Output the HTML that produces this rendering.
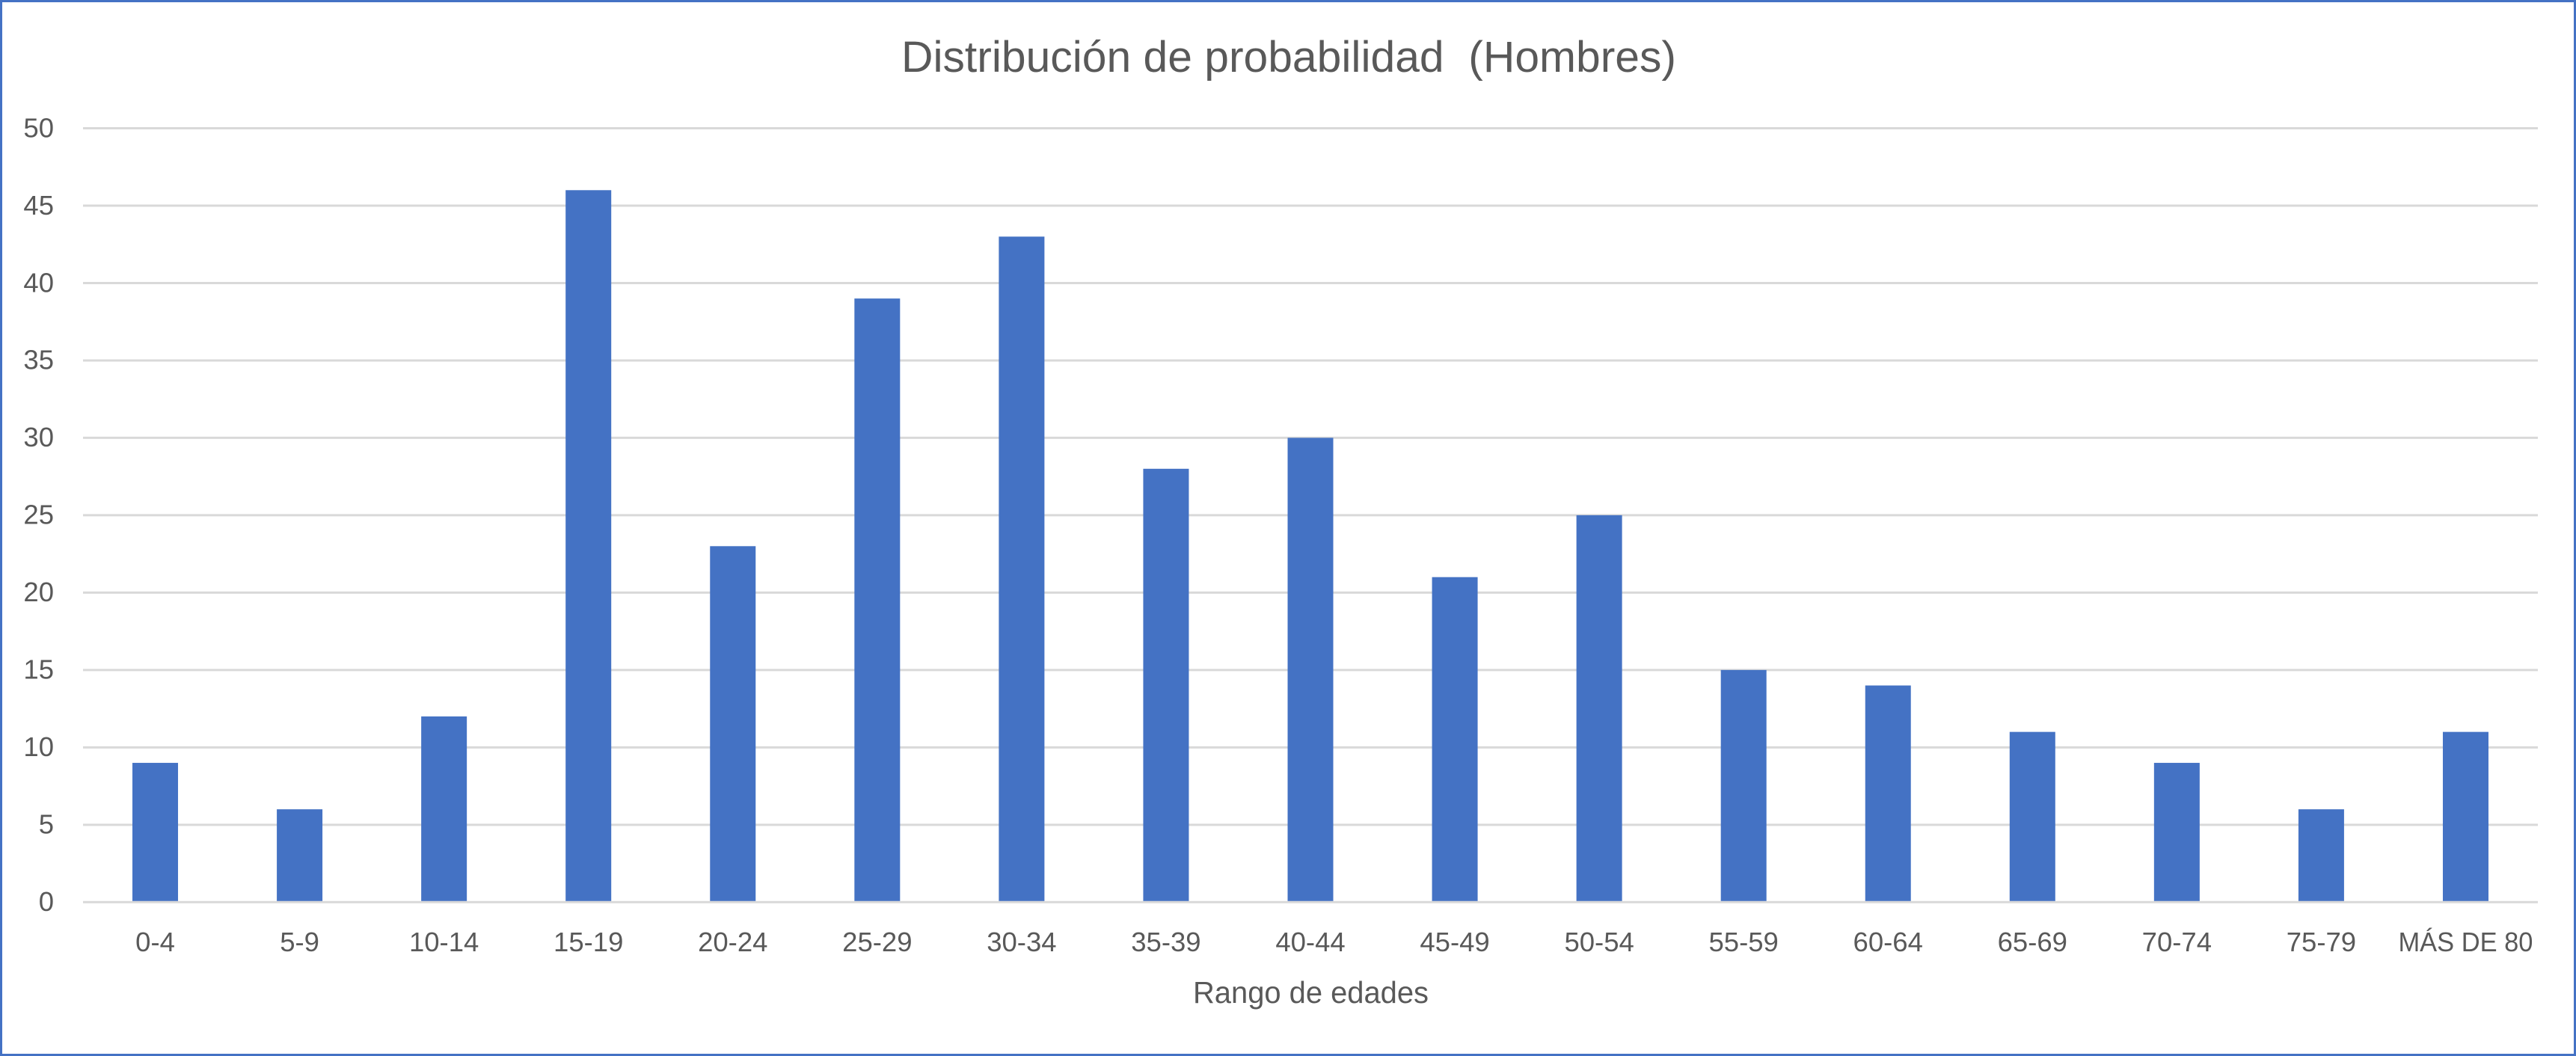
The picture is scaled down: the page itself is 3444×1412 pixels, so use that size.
<!DOCTYPE html>
<html lang="es">
<head>
<meta charset="utf-8">
<title>Distribución de probabilidad (Hombres)</title>
<style>
  html, body { margin: 0; padding: 0; background: #fff; }
  svg { display: block; }
  text { font-family: "Liberation Sans", sans-serif; fill: #595959; }
</style>
</head>
<body>
<svg id="chart" xmlns="http://www.w3.org/2000/svg" width="3444" height="1412" viewBox="0 0 3444 1412">
  <rect x="0" y="0" width="3444" height="1412" fill="#ffffff"/>
  <rect x="1.5" y="1.5" width="3441" height="1409" fill="none" stroke="#4472C4" stroke-width="3"/>
  <text x="1723" y="96" font-size="58" text-anchor="middle" textLength="1036" lengthAdjust="spacingAndGlyphs" xml:space="preserve" style="white-space:pre">Distribución de probabilidad  (Hombres)</text>
  <g id="grid"></g>
  <g id="bars"></g>
  <line id="baseline" stroke="#d9d9d9" stroke-width="3"></line>
  <g id="yLabels"></g>
  <g id="xLabels"></g>
  <text x="1752.5" y="1341" font-size="41" text-anchor="middle" textLength="315" lengthAdjust="spacingAndGlyphs">Rango de edades</text>
</svg>
<script>
const categories = ["0-4","5-9","10-14","15-19","20-24","25-29","30-34","35-39","40-44","45-49","50-54","55-59","60-64","65-69","70-74","75-79","MÁS DE 80"];
const values = [9,6,12,46,23,39,43,28,30,21,25,15,14,11,9,6,11];
const yTicks = [0,5,10,15,20,25,30,35,40,45,50];

const NS = "http://www.w3.org/2000/svg";
const plotLeft = 111, plotRight = 3393, zeroY = 1206.3, topY = 171.5, yMax = 50;
const barWidth = 61, maxLabelWidth = 180;
const yScale = v => zeroY - (v / yMax) * (zeroY - topY);
const bandWidth = (plotRight - plotLeft) / categories.length;
const xCenter = i => plotLeft + bandWidth * (i + 0.5);

const grid = document.getElementById("grid");
const yLabels = document.getElementById("yLabels");
const xLabels = document.getElementById("xLabels");
const bars = document.getElementById("bars");

yTicks.forEach(t => {
  const y = yScale(t);
  if (t !== 0) {
    const line = document.createElementNS(NS, "line");
    line.setAttribute("x1", plotLeft);
    line.setAttribute("x2", plotRight);
    line.setAttribute("y1", y);
    line.setAttribute("y2", y);
    line.setAttribute("stroke", "#d9d9d9");
    line.setAttribute("stroke-width", "3");
    
    
    grid.appendChild(line);
  }
  const label = document.createElementNS(NS, "text");
  label.setAttribute("x", 72);
  label.setAttribute("y", y + 11.8);
  label.setAttribute("font-size", "36.5");
  label.setAttribute("text-anchor", "end");
  label.textContent = t;
  
  
  yLabels.appendChild(label);
});

categories.forEach((c, i) => {
  const cx = xCenter(i);
  const top = yScale(values[i]);
  const bar = document.createElementNS(NS, "rect");
  bar.setAttribute("x", cx - barWidth / 2);
  bar.setAttribute("y", top);
  bar.setAttribute("width", barWidth);
  bar.setAttribute("height", zeroY - top);
  bar.setAttribute("fill", "#4472C4");
  
  
  bars.appendChild(bar);

  const label = document.createElementNS(NS, "text");
  label.setAttribute("x", cx);
  label.setAttribute("y", 1272);
  label.setAttribute("font-size", "36.5");
  label.setAttribute("text-anchor", "middle");
  label.textContent = c;
  
  
  xLabels.appendChild(label);
  if (label.getComputedTextLength() > maxLabelWidth) {
    label.setAttribute("textLength", maxLabelWidth);
    label.setAttribute("lengthAdjust", "spacingAndGlyphs");
  }
});

const baseline = document.getElementById("baseline");
baseline.setAttribute("x1", plotLeft);
baseline.setAttribute("x2", plotRight);
baseline.setAttribute("y1", yScale(0));
baseline.setAttribute("y2", yScale(0));
</script>
</body>
</html>
